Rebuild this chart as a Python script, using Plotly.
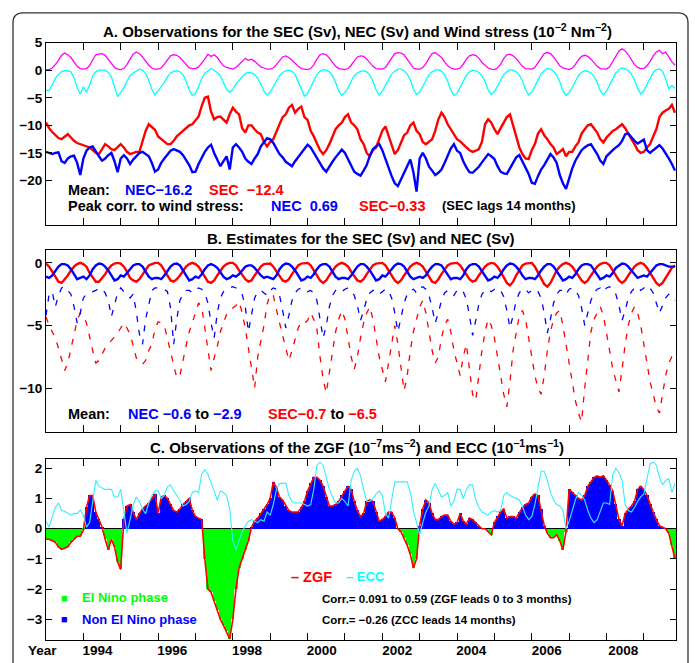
import plotly.graph_objects as go

START_YEAR = 1993.0

# ---------------- Panel A (monthly from Jan 1993) ----------------
wind_stress = [
    0.1, 0.1, 0.4, 1.0, 1.8, 2.7, 3.1, 2.8, 2.3, 1.5, 0.7, 0.3,
    0.2, 0.3, 0.8, 1.9, 2.8, 2.9, 3.0, 2.7, 2.0, 1.2, 0.5, 0.2,
    0.1, 0.3, 1.0, 2.0, 2.9, 3.3, 3.0, 2.4, 1.6, 0.9, 0.4, 0.2,
    0.2, 0.4, 1.1, 1.9, 2.6, 2.8, 2.7, 2.3, 1.6, 0.9, 0.4, 0.3,
    0.3, 0.6, 1.2, 2.0, 2.9, 2.5, 2.8, 2.3, 1.5, 0.8, 0.5, 0.3,
    0.2, 0.5, 1.0, 1.6, 2.1, 1.8, 2.0, 1.6, 1.1, 0.6, 0.4, 0.2,
    0.2, 0.4, 1.0, 1.8, 2.4, 2.6, 2.3, 1.8, 1.2, 0.7, 0.3, 0.2,
    0.1, 0.3, 1.0, 2.0, 2.8, 3.0, 2.8, 2.2, 1.4, 0.7, 0.3, 0.2,
    0.1, 0.3, 0.9, 1.7, 2.4, 2.6, 2.5, 2.0, 1.3, 0.7, 0.3, 0.2,
    0.2, 0.5, 1.3, 2.3, 3.0, 3.2, 3.1, 2.8, 2.0, 1.1, 0.4, 0.2,
    0.2, 0.5, 1.2, 2.2, 3.0, 3.2, 2.8, 2.3, 1.5, 0.8, 0.4, 0.2,
    0.2, 0.4, 1.1, 2.0, 2.6, 2.8, 2.7, 2.2, 1.4, 0.8, 0.4, 0.2,
    0.1, 0.4, 1.1, 2.1, 2.8, 2.9, 2.6, 2.1, 1.4, 0.7, 0.3, 0.2,
    0.2, 0.5, 1.3, 2.3, 3.0, 3.2, 3.0, 2.4, 1.5, 0.8, 0.4, 0.2,
    0.1, 0.4, 1.0, 1.9, 2.5, 2.7, 2.5, 2.0, 1.3, 0.7, 0.3, 0.2,
    0.2, 0.6, 1.5, 2.6, 3.5, 3.9, 3.5, 2.8, 1.8, 1.0, 0.5, 0.3,
    0.3, 0.8, 1.6, 2.6, 3.3, 3.6, 3.0, 3.3, 2.4, 1.5, 0.9,
]

cyan_series_a = [
    -3.6, -3.7, -2.6, -1.5, -0.8, -0.3, -0.1, -0.1, -0.3, -1.4, -3.2, -4.3,
    -3.0, -4.0, -2.7, -1.0, -0.3, 0.0, 0.0, 0.0, -0.4, -1.2, -3.0, -4.8,
    -4.0, -3.2, -2.0, -1.0, -0.5, -0.2, 0.2, 0.0, -0.6, -1.8, -3.5, -4.5,
    -3.8, -3.0, -2.2, -1.2, -0.5, -0.2, -0.1, -0.3, -0.8, -2.0, -3.6, -4.6,
    -4.2, -3.0, -1.5, -0.6, -0.2, 0.3, 0.0, -0.4, -1.0, -2.2, -3.5, -4.0,
    -3.5, -2.5, -1.8, -1.2, -0.6, -0.4, -0.5, -0.8, -1.5, -2.5, -3.8, -4.5,
    -4.0, -3.0, -2.0, -1.0, -0.4, -0.1, 0.0, -0.2, -0.8, -2.0, -3.5, -4.7,
    -4.2, -3.0, -1.8, -0.8, -0.2, 0.1, 0.0, -0.3, -1.0, -2.2, -3.8, -4.6,
    -4.0, -3.2, -2.0, -1.0, -0.5, -0.2, -0.1, -0.3, -0.9, -2.0, -3.6, -4.5,
    -3.8, -2.8, -1.6, -0.7, -0.2, 0.2, 0.2, -0.1, -0.7, -1.8, -3.4, -4.4,
    -4.0, -3.0, -1.8, -0.8, -0.3, 0.0, 0.1, -0.2, -0.8, -2.0, -3.6, -4.6,
    -4.2, -3.1, -1.9, -0.9, -0.3, 0.0, -0.1, -0.4, -1.0, -2.1, -3.6, -4.4,
    -3.9, -2.9, -1.7, -0.8, -0.3, 0.1, 0.0, -0.3, -0.9, -2.0, -3.5, -4.5,
    -4.0, -3.0, -1.8, -0.7, -0.1, 0.3, 0.2, -0.2, -0.9, -2.1, -3.7, -4.6,
    -4.1, -3.1, -2.0, -1.0, -0.4, -0.1, -0.2, -0.5, -1.1, -2.2, -3.7, -4.5,
    -3.8, -2.6, -1.4, -0.5, 0.1, 0.4, 0.3, -0.1, -0.7, -1.8, -3.3, -4.3,
    -3.7, -2.5, -1.3, -0.4, 0.1, 0.2, -0.2, -1.6, -3.4, -2.8, -3.3,
]

sec_obs = [
    -9.5, -10.5, -11.2, -11.8, -12.3, -12.5, -12.0, -11.6, -12.2, -12.8, -13.2, -13.4,
    -13.6, -13.9, -14.0, -14.5, -15.0, -15.2, -14.2, -13.4, -13.8, -14.3, -14.5, -14.0,
    -13.4, -14.0, -14.8, -15.2, -15.0, -14.8, -14.8, -13.0, -11.0, -9.8, -10.3, -10.8,
    -12.0, -12.5, -13.0, -13.4, -13.4, -12.8, -12.0, -11.5, -10.9, -10.5, -10.0, -9.8,
    -9.0, -8.4, -6.5, -5.0, -4.8, -7.5, -8.9, -8.5, -8.4, -9.0, -9.5, -8.0,
    -6.8, -7.5, -8.0, -10.5, -11.3, -10.0, -10.0, -10.7, -11.3, -11.6, -13.0, -13.8,
    -13.0, -12.5, -11.0, -9.8, -8.5, -8.0, -6.8, -6.3, -7.7, -7.0, -6.6, -8.5,
    -9.0, -11.0, -12.0, -13.4, -14.5, -15.2, -14.5, -13.4, -12.0, -10.7, -10.0, -9.5,
    -8.5, -8.0, -9.5, -10.0, -10.7, -12.5, -13.4, -15.0, -15.6, -14.5, -14.0, -12.5,
    -11.0, -10.2, -12.0, -13.4, -15.2, -14.5, -13.1, -11.8, -11.3, -10.0, -9.5, -11.0,
    -11.6, -13.0, -13.4, -13.0, -12.5, -11.0, -8.9, -7.7, -8.5, -9.8, -10.7, -11.6,
    -12.5, -12.9, -13.5, -14.0, -14.5, -14.8, -14.6, -14.3, -13.0, -9.8, -8.9, -9.5,
    -10.7, -11.6, -10.5, -9.5, -8.5, -8.0, -10.0, -12.5, -14.0, -15.2, -16.0, -16.1,
    -14.5, -13.4, -11.5, -10.7, -11.8, -12.5, -13.4, -14.0, -15.2, -14.8, -14.3, -15.6,
    -14.8, -14.8, -13.8, -13.1, -11.5, -10.7, -10.0, -9.8, -10.5, -11.3, -12.5, -13.1,
    -12.2, -11.6, -11.0, -10.7, -10.2, -9.8, -10.5, -11.6, -12.5, -13.4, -14.5, -15.0,
    -14.8, -14.0, -13.4, -12.0, -10.7, -8.5, -7.7, -7.3, -7.0, -6.3, -7.7,
]

nec_obs = [
    -14.8, -15.0, -15.2, -15.0, -14.9, -16.5, -16.8, -16.0, -15.6, -15.5, -16.8, -19.0,
    -16.0, -14.6, -14.0, -13.8, -14.8, -15.6, -16.4, -16.0, -15.4, -15.0, -16.5, -18.5,
    -16.0, -15.4, -16.0, -17.0, -16.2, -15.6, -15.0, -14.8, -15.2, -15.6, -16.8, -18.4,
    -18.0, -16.8, -16.0, -15.2, -14.6, -14.3, -14.5, -14.8, -15.4, -16.4, -17.2, -18.5,
    -18.4, -17.0, -15.8, -14.8, -14.0, -13.5, -15.0, -16.2, -17.4, -16.5, -15.6, -18.0,
    -14.0, -13.4, -14.0, -14.8, -16.0, -16.6, -17.0, -16.0, -15.2, -13.8, -13.0, -12.3,
    -12.5, -13.2, -14.2, -15.2, -15.8, -16.6, -17.0, -17.4, -16.5, -15.8, -15.0, -14.2,
    -13.5, -14.0, -15.0, -16.0, -17.0, -17.8, -18.4, -17.4, -16.6, -15.8, -15.2, -14.4,
    -15.0, -16.1, -17.2, -18.4, -18.8, -19.1, -18.2, -17.2, -15.5, -14.3, -13.8, -13.4,
    -14.5, -16.2, -17.9, -19.2, -20.5, -21.0, -19.8, -18.6, -17.2, -16.2, -18.5, -22.0,
    -16.0, -15.0, -16.0, -17.5, -18.2, -19.0, -18.6, -18.0, -16.8, -15.4, -14.2, -13.4,
    -14.6, -15.0, -16.5, -17.6, -18.5, -18.6, -18.0, -17.5, -16.7, -16.0, -15.2, -15.6,
    -16.1, -17.4, -18.4, -18.7, -18.8, -17.8, -16.8, -15.8, -15.4, -16.6, -17.8, -18.8,
    -20.4, -20.6, -19.2, -18.0, -17.2, -16.3, -15.2, -15.8, -16.8, -19.0, -20.5, -21.5,
    -19.5, -17.8, -16.4, -15.4, -14.5, -14.0, -13.6, -13.4, -14.2, -15.2, -16.4, -17.0,
    -15.6, -15.0, -14.5, -14.0, -13.6, -12.8, -11.6, -11.5, -12.2, -12.8, -13.3, -13.0,
    -12.6, -14.5, -15.0, -14.5, -14.0, -13.6, -14.2, -15.0, -16.0, -17.0, -18.2,
]

# ---------------- Panel B ----------------
sec_est_solid = [
    -0.05, -0.3, -0.7, -1.1, -1.5, -1.6, -1.3, -1.0, -0.6, -0.3, -0.1, 0.0,
    -0.1, -0.3, -0.8, -1.2, -1.5, -1.5, -1.2, -0.9, -0.5, -0.2, -0.05, 0.0,
    -0.05, -0.3, -0.7, -1.2, -1.4, -1.5, -1.3, -0.9, -0.5, -0.2, -0.1, 0.0,
    0.0, -0.2, -0.6, -1.0, -1.4, -1.5, -1.3, -1.0, -0.6, -0.3, -0.1, 0.0,
    -0.1, -0.3, -0.7, -1.1, -1.5, -1.6, -1.4, -1.0, -0.6, -0.3, -0.1, 0.0,
    0.0, -0.2, -0.6, -1.0, -1.3, -1.5, -1.4, -1.0, -0.6, -0.3, -0.1, -0.05,
    -0.05, -0.3, -0.7, -1.1, -1.4, -1.5, -1.3, -0.9, -0.5, -0.2, -0.05, 0.0,
    0.0, -0.2, -0.6, -1.1, -1.4, -1.6, -1.4, -1.0, -0.6, -0.3, -0.1, 0.0,
    -0.1, -0.3, -0.7, -1.1, -1.4, -1.5, -1.3, -0.9, -0.5, -0.2, -0.05, 0.0,
    0.0, -0.2, -0.6, -1.0, -1.4, -1.6, -1.4, -1.0, -0.6, -0.3, -0.1, 0.0,
    -0.1, -0.3, -0.7, -1.1, -1.5, -1.6, -1.3, -0.9, -0.5, -0.2, -0.05, 0.0,
    0.0, -0.2, -0.6, -1.0, -1.3, -1.5, -1.4, -1.0, -0.6, -0.3, -0.1, 0.0,
    -0.05, -0.3, -0.7, -1.2, -1.6, -1.8, -1.5, -1.0, -0.6, -0.2, -0.05, 0.0,
    0.0, -0.3, -0.8, -1.3, -1.7, -1.9, -1.6, -1.1, -0.6, -0.3, -0.1, 0.0,
    -0.1, -0.3, -0.7, -1.1, -1.4, -1.6, -1.4, -1.0, -0.6, -0.3, -0.1, 0.0,
    0.0, -0.2, -0.6, -1.0, -1.4, -1.6, -1.4, -1.0, -0.6, -0.3, -0.1, 0.0,
    -0.1, -0.4, -0.8, -1.2, -1.6, -1.8, -1.6, -1.2, -0.8, -0.4, -0.2,
]

nec_est_solid = [
    -1.1, -1.2, -1.0, -0.6, -0.3, -0.1, -0.1, -0.2, -0.5, -0.9, -1.3, -1.2,
    -1.1, -1.3, -1.0, -0.5, -0.2, -0.05, -0.1, -0.3, -0.6, -1.0, -1.4, -1.3,
    -1.0, -1.1, -0.8, -0.5, -0.2, -0.1, -0.1, -0.3, -0.7, -1.1, -1.3, -1.2,
    -1.2, -1.3, -1.0, -0.6, -0.3, -0.1, -0.05, -0.2, -0.6, -1.0, -1.4, -1.3,
    -1.1, -1.2, -0.9, -0.5, -0.2, -0.1, -0.2, -0.4, -0.8, -1.1, -1.3, -1.2,
    -1.0, -1.1, -0.9, -0.6, -0.3, -0.2, -0.2, -0.4, -0.7, -1.0, -1.2, -1.1,
    -1.2, -1.3, -1.0, -0.5, -0.2, -0.05, -0.1, -0.3, -0.6, -1.0, -1.4, -1.3,
    -1.1, -1.2, -0.9, -0.5, -0.2, -0.1, -0.1, -0.3, -0.7, -1.1, -1.3, -1.2,
    -1.2, -1.3, -1.0, -0.6, -0.3, -0.1, -0.1, -0.3, -0.6, -1.0, -1.4, -1.3,
    -1.0, -1.1, -0.8, -0.5, -0.2, -0.05, -0.1, -0.3, -0.7, -1.1, -1.3, -1.2,
    -1.1, -1.2, -1.0, -0.6, -0.3, -0.1, -0.1, -0.2, -0.6, -1.0, -1.3, -1.2,
    -1.2, -1.3, -1.0, -0.5, -0.2, -0.1, -0.1, -0.3, -0.7, -1.1, -1.4, -1.3,
    -1.1, -1.2, -0.9, -0.5, -0.2, -0.05, -0.1, -0.3, -0.6, -1.0, -1.3, -1.2,
    -1.2, -1.3, -1.0, -0.6, -0.3, -0.1, -0.1, -0.3, -0.7, -1.1, -1.4, -1.3,
    -1.1, -1.2, -0.9, -0.5, -0.2, -0.1, -0.1, -0.2, -0.6, -1.0, -1.3, -1.2,
    -1.0, -1.1, -0.8, -0.4, -0.2, -0.05, -0.1, -0.3, -0.6, -0.9, -1.2, -1.1,
    -1.0, -1.1, -0.8, -0.5, -0.2, -0.1, -0.1, -0.2, -0.3, -0.3, -0.3,
]

nec_est_dash = [
    -4.2, -2.5, -2.3, -3.5, -2.6, -2.0, -1.9, -2.2, -2.5, -3.5, -4.8, -4.0,
    -2.8, -2.5, -2.4, -2.3, -2.2, -2.0, -2.1, -2.4, -3.0, -4.3, -3.3, -2.4,
    -2.0, -2.3, -2.5, -2.8, -2.5, -3.9, -5.7, -6.5, -4.5, -3.2, -2.2, -2.0,
    -2.0, -2.0, -2.1, -2.3, -3.6, -6.5, -4.5, -3.0, -2.5, -2.2, -2.2, -2.4,
    -2.2, -2.0, -2.1, -2.4, -3.2, -4.8, -6.0, -4.0, -2.8, -2.3, -2.1, -2.0,
    -1.9, -2.0, -2.2, -2.5, -3.5, -5.5, -4.0, -2.8, -2.3, -2.2, -2.4, -2.6,
    -2.2, -2.0, -2.1, -2.6, -3.8, -5.2, -4.2, -3.0, -2.4, -2.1, -2.0, -2.2,
    -2.3, -2.2, -2.4, -3.0, -4.5, -6.0, -5.0, -3.5, -2.6, -2.2, -2.1, -2.3,
    -2.1, -2.0, -2.2, -2.6, -3.4, -4.6, -3.8, -2.9, -2.4, -2.2, -2.2, -2.5,
    -2.3, -2.1, -2.2, -2.8, -4.0, -5.5, -4.4, -3.2, -2.5, -2.2, -2.1, -2.4,
    -2.0, -1.9, -2.1, -2.6, -3.6, -4.8, -4.0, -3.0, -2.4, -2.2, -2.3, -2.6,
    -2.2, -2.1, -2.3, -2.9, -4.2, -5.8, -4.6, -3.3, -2.5, -2.2, -2.1, -2.3,
    -2.1, -2.0, -2.2, -2.7, -3.8, -5.2, -4.2, -3.0, -2.4, -2.1, -2.1, -2.4,
    -2.2, -2.1, -2.3, -2.8, -4.0, -5.6, -4.5, -3.2, -2.5, -2.2, -2.2, -2.5,
    -2.1, -2.0, -2.2, -2.6, -3.6, -5.0, -4.0, -3.0, -2.4, -2.1, -2.0, -2.3,
    -2.0, -1.9, -2.1, -2.5, -3.4, -4.6, -3.8, -2.8, -2.3, -2.0, -1.9, -2.2,
    -2.0, -1.8, -2.0, -2.4, -3.2, -4.0, -3.4, -2.8, -2.5, -2.6, -3.0,
]

sec_est_dash = [
    -4.3, -5.0, -5.5, -6.0, -6.8, -7.8, -8.6, -8.0, -6.8, -5.8, -4.6, -4.0,
    -4.2, -4.8, -6.0, -7.0, -8.0, -7.8, -7.3, -6.8, -6.5, -6.2, -5.9, -5.6,
    -5.2, -4.8, -5.2, -5.7, -6.6, -7.6, -7.9, -8.1, -7.8, -7.0, -6.5, -5.3,
    -4.7, -4.8, -5.0, -6.0, -7.0, -8.0, -9.2, -9.0, -7.7, -6.6, -5.5, -4.8,
    -4.0, -3.2, -3.5, -5.2, -7.0, -8.6, -7.6, -6.7, -5.5, -4.8, -4.1, -3.9,
    -3.6, -3.4, -3.1, -4.0, -5.2, -6.8, -8.5, -10.0, -7.5, -6.2, -5.0, -3.3,
    -2.5, -2.6, -3.8, -4.8, -5.8, -6.7, -7.8, -7.0, -6.2, -5.2, -4.7, -4.8,
    -4.6, -4.0, -4.5, -5.3, -7.5, -9.3, -10.4, -8.8, -7.0, -5.5, -4.5, -3.8,
    -4.5, -6.0, -7.5, -8.5, -7.5, -6.0, -4.8, -4.0, -3.5, -4.5, -6.0, -7.5,
    -8.5, -9.5, -8.0, -6.5, -5.0, -6.5, -8.5, -10.2, -9.0, -7.0, -5.5, -4.5,
    -3.5, -3.0, -4.0, -5.5, -7.0, -8.0, -7.5, -6.0, -5.0, -4.5, -5.5, -7.0,
    -8.0, -9.0, -7.5, -6.5, -8.5, -10.5, -11.0, -9.0, -7.0, -5.5, -4.5, -5.0,
    -6.0, -7.5, -9.0, -10.5, -11.5, -9.5, -7.0, -5.5, -4.2, -3.8, -4.5, -6.0,
    -7.5, -9.0, -10.0, -10.5, -9.0, -7.0, -5.5, -4.5, -4.0, -3.8, -5.0, -6.5,
    -8.0, -9.5, -11.0, -12.0, -12.7, -10.0, -7.5, -5.5, -4.5, -4.0, -3.5, -4.2,
    -5.5, -7.0, -8.5, -9.5, -10.3, -8.5, -6.5, -5.0, -4.0, -3.5, -4.0, -5.0,
    -6.5, -8.0, -9.5, -10.5, -11.5, -12.0, -10.5, -9.0, -8.0, -7.5, -7.3,
]

# ---------------- Panel C ----------------
zgf = [
    -0.35, -0.35, -0.4, -0.45, -0.6, -0.68, -0.65, -0.6, -0.45, -0.35, -0.25, -0.25,
    -0.05, 0.7, 1.1, 1.1, 0.55, 0.3, 0.05, -0.35, -0.7, -0.35, -0.6, -1.1,
    -1.35, 0.3, 0.75, 0.8, 0.55, 0.3, 0.5, 0.65, 0.75, 0.85, 1.0, 1.15,
    0.5, 1.05, 1.1, 1.0, 0.8, 0.6, 0.55, 0.65, 0.8, 0.9, 1.0, 0.6,
    0.4, 0.35, 0.3, -1.0, -2.0, -2.1, -2.4, -2.7, -3.0, -3.2, -3.4, -3.65,
    -3.0, -2.0, -1.3, -1.0, -0.7, -0.4, 0.05, 0.25, 0.35, 0.5, 0.65, 0.8,
    1.0, 1.55, 1.35, 1.05, 0.95, 0.75, 0.6, 0.55, 0.55, 0.55, 0.7, 0.9,
    1.25, 1.5, 1.7, 1.7, 1.6, 1.4, 1.05, 0.75, 0.75, 0.8, 0.9, 1.1,
    1.25, 1.4, 1.3, 0.9, 0.6, 0.4, 0.5, 0.9, 0.95, 0.9, 0.55, 0.25,
    0.3, 0.4, 0.55, 0.55, 0.35, 0.0, -0.1, -0.3, -0.55, -0.85, -1.3, -1.0,
    0.1, 0.65, 0.95, 0.85, 0.5, 0.3, 0.3, 0.4, 0.45, 0.45, 0.25, 0.15,
    0.2, 0.5, 0.25, 0.15, 0.35, 0.3, 0.2, 0.1, 0.0, 0.0, -0.1, -0.2,
    0.2, 0.4, 0.55, 0.65, 0.35, 0.4, 0.4, 0.35, 0.55, 0.7, 0.8, 0.85,
    1.05, 1.15, 1.1, 0.65, 0.1, -0.15, -0.3, -0.3, -0.2, -0.4, -0.7, -0.1,
    1.3, 1.2, 1.1, 1.0, 0.95, 1.1, 1.4, 1.55, 1.7, 1.75, 1.7, 1.75,
    1.6, 1.45, 1.25, 0.8, 0.3, 0.1, 0.5, 0.65, 0.75, 0.9, 1.3, 1.4,
    1.3, 1.1, 0.8, 0.55, 0.3, 0.1, 0.05, 0.0, -0.15, -0.55, -1.0,
]

ecc = [
    0.25, 0.05, 0.4, 0.7, 0.85, 0.6, 0.58, 0.5, 0.45, 0.5, 0.5, 0.62,
    0.45, 0.05, 0.2, 0.9, 1.6, 1.4, 1.35, 1.3, 1.3, 1.3, 1.05, 1.05,
    1.3, 0.6, -0.15, 0.3, 0.8, 1.05, 0.9, 0.65, 0.5, 0.85, 1.1, 1.25,
    1.25, 1.0, 1.1, 1.4, 1.45, 1.25, 1.1, 0.95, 0.75, 0.8, 0.9, 1.2,
    1.25, 1.2, 1.8, 1.95, 1.8, 1.55, 1.25, 0.95, 1.25, 1.2, 1.1, 0.65,
    -0.4, -0.7, -0.4, -0.1, 0.1, 0.25, 0.3, 0.25, 0.2, 0.3, 0.25, 0.55,
    0.45, 0.8, 1.3, 1.5, 1.5, 1.5, 1.1, 0.9, 0.85, 0.85, 0.85, 0.8,
    0.75, 0.8, 1.3, 2.1, 2.2, 2.1, 1.7, 1.3, 1.05, 0.85, 0.85, 1.0,
    0.9, 0.75, 1.6, 1.9, 2.0, 1.75, 1.3, 0.9, 0.9, 1.0, 1.15, 1.25,
    1.1, 0.5, 0.35, 0.9, 1.55, 1.55, 1.55, 1.55, 1.55, 1.2, 0.6, 0.2,
    -0.2, 0.2, 0.55, 0.75, 1.3, 1.5, 1.25, 1.05, 1.1, 1.2, 0.75, 0.9,
    1.3, 1.3, 1.0, 1.3, 1.45, 1.45, 0.95, 0.7, 0.55, 0.5, 0.45, 0.55,
    0.6, 0.55, 0.6, 1.1, 1.2, 1.1, 1.05, 1.0, 0.95, 0.75, 0.45, 0.3,
    0.4, 0.8, 1.4, 1.9, 1.9, 1.6, 1.2, 0.95, 0.8, 0.75, 0.6, 0.0,
    0.25, 0.65, 0.95, 1.2, 1.1, 0.95, 0.6, 0.35, 0.2, 0.3, 0.6, 0.85,
    0.85, 0.8, 1.8, 2.0, 1.85, 1.6, 0.8, 0.6, 0.55, 0.7, 0.9, 1.05,
    1.15, 1.6, 2.15, 2.2, 2.1, 1.7, 1.45, 1.6, 1.65, 1.2, 1.5,
]

# axis ticks / labels
tick_years = list(range(1994, 2010))
year_labels = ["1994", "1996", "1998", "2000", "2002", "2004", "2006", "2008"]
year_label_pos = [1994.38, 1996.38, 1998.38, 2000.38, 2002.4, 2004.38, 2006.4, 2008.45]
ticks_a = [5, 0, -5, -10, -15, -20]
ticks_b = [0, -5, -10]
ticks_c = [2, 1, 0, -1, -2, -3]
X_RANGE = [1993.0, 2009.86]


def months(series):
    return [START_YEAR + i / 12.0 for i in range(len(series))]


BLUE = "#0000FF"
RED = "#FF0000"
MAGENTA = "#FF00FF"
CYAN = "#00FFFF"
GREEN = "#00FF00"
FONT = "Liberation Sans"

fig = go.Figure()

# Panel A
fig.add_trace(go.Scatter(x=months(wind_stress), y=wind_stress, mode="lines",
                         line=dict(color=MAGENTA, width=1.3), xaxis="x", yaxis="y"))
fig.add_trace(go.Scatter(x=months(cyan_series_a), y=cyan_series_a, mode="lines",
                         line=dict(color=CYAN, width=1.3), xaxis="x", yaxis="y"))
fig.add_trace(go.Scatter(x=months(sec_obs), y=sec_obs, mode="lines",
                         line=dict(color=RED, width=2.4), xaxis="x", yaxis="y"))
fig.add_trace(go.Scatter(x=months(nec_obs), y=nec_obs, mode="lines",
                         line=dict(color=BLUE, width=2.4), xaxis="x", yaxis="y"))

# Panel B
fig.add_trace(go.Scatter(x=months(sec_est_dash), y=sec_est_dash, mode="lines",
                         line=dict(color=RED, width=1.3, dash="6px,8px"), xaxis="x2", yaxis="y2"))
fig.add_trace(go.Scatter(x=months(nec_est_dash), y=nec_est_dash, mode="lines",
                         line=dict(color=BLUE, width=1.3, dash="6px,8px"), xaxis="x2", yaxis="y2"))
fig.add_trace(go.Scatter(x=months(sec_est_solid), y=sec_est_solid, mode="lines",
                         line=dict(color=RED, width=2.4), xaxis="x2", yaxis="y2"))
fig.add_trace(go.Scatter(x=months(nec_est_solid), y=nec_est_solid, mode="lines",
                         line=dict(color=BLUE, width=2.4), xaxis="x2", yaxis="y2"))

# Panel C
bar_colors = [BLUE if v >= 0 else GREEN for v in zgf]
fig.add_trace(go.Bar(x=months(zgf), y=zgf, width=1 / 12.0, marker=dict(color=bar_colors, line=dict(width=0)),
                     xaxis="x3", yaxis="y3"))
fig.add_trace(go.Scatter(x=months(zgf), y=zgf, mode="lines",
                         line=dict(color=RED, width=1.6), xaxis="x3", yaxis="y3"))
fig.add_trace(go.Scatter(x=months(ecc), y=ecc, mode="lines",
                         line=dict(color="#33EEFF", width=1.1), xaxis="x3", yaxis="y3"))
# invisible trace to carry the year-label axis
fig.add_trace(go.Scatter(x=[X_RANGE[0]], y=[0], mode="markers", marker=dict(opacity=0),
                         xaxis="x4", yaxis="y3", hoverinfo="skip"))

W, H = 695, 663
XD = [46 / W, 676 / W]


def ydom(top, bot):
    return [1 - bot / H, 1 - top / H]


tickfont = dict(family=FONT, size=13.5, color="black", weight="bold")
xcommon = dict(range=X_RANGE, domain=XD, tickvals=tick_years, ticks="inside", ticklen=7,
               tickcolor="black", showticklabels=False, showline=True, linecolor="black",
               linewidth=1, mirror="ticks", showgrid=False, zeroline=False)
ycommon = dict(ticks="inside", ticklen=6, tickcolor="black", showline=True, linecolor="black",
               linewidth=1, mirror="ticks", showgrid=False, tickfont=tickfont)

fig.update_layout(
    width=W, height=H, margin=dict(l=0, r=0, t=0, b=0),
    paper_bgcolor="white", plot_bgcolor="white", showlegend=False, bargap=0,
    xaxis=dict(**xcommon, anchor="y"),
    yaxis=dict(**ycommon, domain=ydom(36, 220), range=[-28, 5], tickvals=ticks_a, zeroline=False, anchor="x"),
    xaxis2=dict(**xcommon, anchor="y2"),
    yaxis2=dict(**ycommon, domain=ydom(246, 430), range=[-13.55, 1.0], tickvals=ticks_b, zeroline=False, anchor="x2"),
    xaxis3=dict(**xcommon, anchor="y3"),
    yaxis3=dict(**ycommon, domain=ydom(457, 640), range=[-3.69, 2.3], tickvals=ticks_c,
                zeroline=True, zerolinecolor="black", zerolinewidth=1, anchor="x3"),
    xaxis4=dict(range=X_RANGE, domain=XD, overlaying="x3", anchor="y3", side="bottom",
                tickvals=year_label_pos, ticktext=year_labels, ticks="", showline=False,
                showgrid=False, zeroline=False, tickfont=tickfont),
)


def px(x):
    return x / W


def py(y):
    return 1 - y / H


ann = []
title_font = dict(family=FONT, size=15, color="black", weight="bold")
ann.append(dict(x=px(357), y=py(24), text="A. Observations for the SEC (Sv), NEC (Sv) and Wind stress (10<sup>−2</sup> Nm<sup>−2</sup>)",
                font=title_font, xanchor="center", yanchor="middle"))
ann.append(dict(x=px(361), y=py(234), text="B. Estimates for the SEC (Sv) and NEC (Sv)",
                font=title_font, xanchor="center", yanchor="middle"))
ann.append(dict(x=px(357), y=py(444), text="C. Observations of the ZGF (10<sup>−7</sup>ms<sup>−2</sup>) and ECC (10<sup>−1</sup>ms<sup>−1</sup>)",
                font=title_font, xanchor="center", yanchor="middle"))

tf = dict(family=FONT, size=14.5, color="black", weight="bold")
tfb = dict(family=FONT, size=14.5, color=BLUE, weight="bold")
tfr = dict(family=FONT, size=14.5, color=RED, weight="bold")
tfg = dict(family=FONT, size=13, color=GREEN, weight="bold")
tfb2 = dict(family=FONT, size=13, color=BLUE, weight="bold")
small = dict(family=FONT, size=13, color="black", weight="bold")
corr = dict(family=FONT, size=11.5, color="black", weight="bold")


def t(x, y, text, font):
    ann.append(dict(x=px(x), y=py(y), text=text, font=font, xanchor="left", yanchor="middle"))


t(66, 185, "Mean:", tf)
t(123, 185, "NEC−16.2", tfb)
t(207, 185, "SEC  −12.4", tfr)
t(66, 201, "Peak corr. to wind stress:", tf)
t(269, 201, "NEC  0.69", tfb)
t(357, 201, "SEC−0.33", tfr)
t(440, 201, "(SEC lags 14 months)", small)

t(66, 411, "Mean:", tf)
t(126, 411, "<span style='color:#0000FF'>NEC −0.6</span> to <span style='color:#0000FF'>−2.9</span>", tf)
t(266, 411, "<span style='color:#FF0000'>SEC−0.7</span> to <span style='color:#FF0000'>−6.5</span>", tf)

t(289, 576, "– ZGF", tfr)
t(344, 576, "– ECC", dict(family=FONT, size=13, color=CYAN, weight="bold"))
t(59, 597, "■", dict(family=FONT, size=11, color=GREEN))
t(80, 597, "El Nino phase", tfg)
t(59, 619, "■", dict(family=FONT, size=11, color=BLUE))
t(80, 619, "Non El Nino phase", tfb2)
t(320, 598, "Corr.= 0.091 to 0.59 (ZGF leads 0 to 3 months)", corr)
t(320, 620, "Corr.= −0.26 (ZCC leads 14 months)", corr)
ann.append(dict(x=px(42), y=py(650), text="Year", font=dict(family=FONT, size=13.5, color="black", weight="bold"),
                xanchor="center", yanchor="middle"))

for a in ann:
    a.update(xref="paper", yref="paper", showarrow=False)
fig.update_layout(annotations=ann)

# rounded outer frame (open at bottom, extends past the picture)
x0, x1 = 13 / W, 688 / W
yt = 1 - 6 / H
rx, ry = 10 / W, 10 / H
path = (f"M {x0},-0.05 L {x0},{yt - ry} Q {x0},{yt} {x0 + rx},{yt} "
        f"L {x1 - rx},{yt} Q {x1},{yt} {x1},{yt - ry} L {x1},-0.05")
fig.add_shape(type="path", path=path, xref="paper", yref="paper",
              line=dict(color="#333333", width=1.3), layer="above")

fig.write_html("out.html")
